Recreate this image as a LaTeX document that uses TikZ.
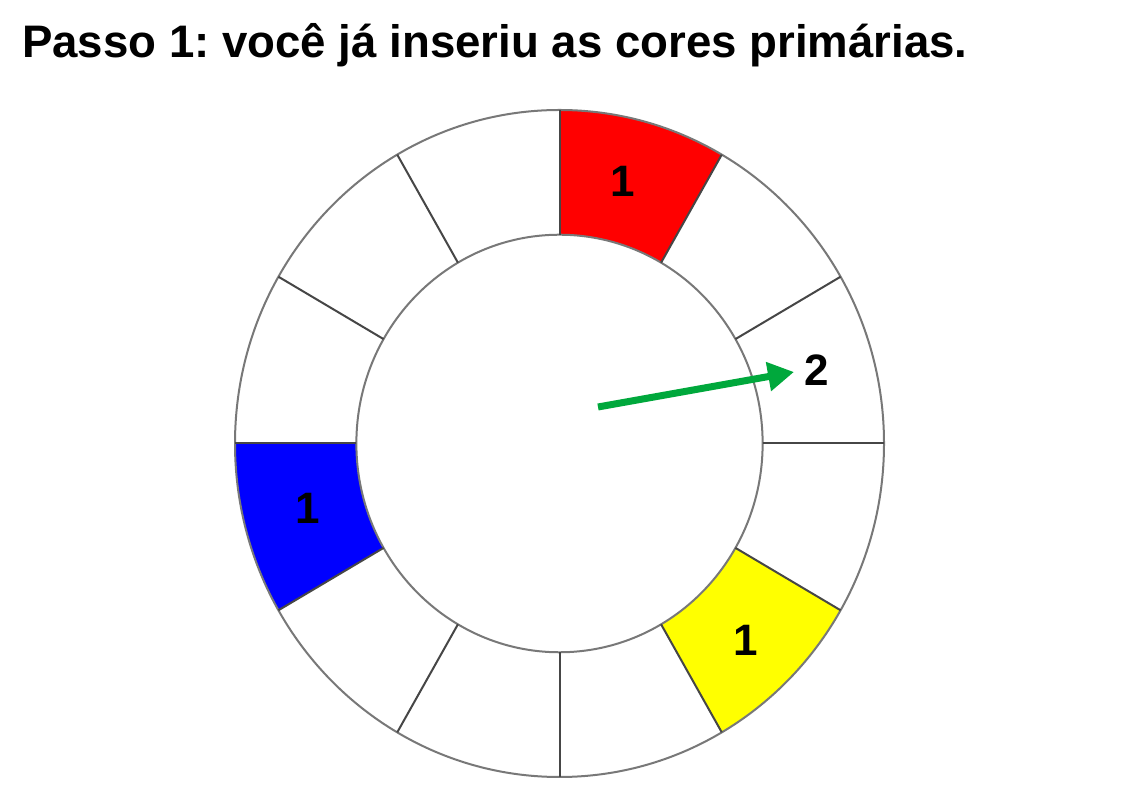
\documentclass[tikz,border=0pt]{standalone}
\usepackage{fontspec}
\setmainfont{Liberation Sans}
\usetikzlibrary{arrows.meta}
\frenchspacing
\definecolor{ringgray}{RGB}{120,120,120}
\definecolor{spokegray}{RGB}{70,70,70}
\definecolor{arrowgreen}{RGB}{0,168,60}
\definecolor{pureyellow}{RGB}{255,255,0}
\definecolor{purered}{RGB}{255,0,0}
\definecolor{pureblue}{RGB}{0,0,255}
\tikzset{
  ring/.style={draw=ringgray, line width=2pt},
  spoke/.style={draw=spokegray, line width=2pt},
  numlabel/.style={font=\fontsize{44}{44}\selectfont\bfseries, inner sep=0pt},
  pointer/.style={draw=arrowgreen, line width=7pt, -{Triangle[length=26pt,width=28pt]}}
}
\begin{document}
\begin{tikzpicture}[x=1pt,y=1pt]
\useasboundingbox[fill=white] (0,0) rectangle (1123,794);
\node[anchor=base west, inner sep=0pt, font=\fontsize{45.6}{46}\selectfont\bfseries] (title) at (22,736) {Passo 1: você já inseriu as cores primárias.};
\begin{scope}[shift={(559.5,350.5)}, x=324.5pt, y=333.5pt]
  % coloured sectors
  \fill[purered] (60:0.626) arc[start angle=60,end angle=90,radius=0.626] -- (90:1) arc[start angle=90,end angle=60,radius=1] -- cycle;
  \fill[pureyellow] (-60:0.626) arc[start angle=-60,end angle=-30,radius=0.626] -- (-30:1) arc[start angle=-30,end angle=-60,radius=1] -- cycle;
  \fill[pureblue] (180:0.626) arc[start angle=180,end angle=210,radius=0.626] -- (210:1) arc[start angle=210,end angle=180,radius=1] -- cycle;
  % rings
  \draw[ring] (0,0) circle[radius=1];
  \draw[ring] (0,0) circle[radius=0.626];
  % spokes
  \foreach \a in {0,30,...,330} {
    \draw[spoke] (\a:0.626) -- (\a:1);
  }
\end{scope}
\node[numlabel] (redlbl) at (623,613) {1};
\node[numlabel] (bluelbl) at (308,286) {1};
\node[numlabel] (yellowlbl) at (746,154) {1};
\node[numlabel] (twolbl) at (817,424) {2};
\coordinate (arrowstart) at (598,387);
\coordinate (arrowend) at (794,422);
\draw[pointer] (arrowstart) -- (arrowend);
\end{tikzpicture}
\end{document}
